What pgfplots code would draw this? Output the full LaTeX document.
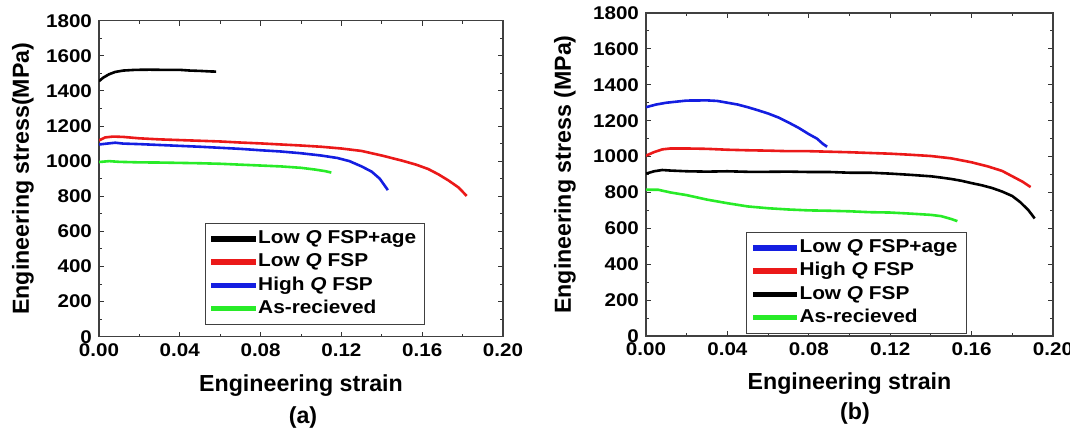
\documentclass[border=0pt]{standalone}
\usepackage{pgfplots}
\pgfplotsset{compat=1.18}
\usepackage{fontspec}
\setmainfont{Liberation Sans}
\newfontfamily\tickfont{Liberation Sans}[FakeStretch=1.12]

\definecolor{cred}{RGB}{235,25,25}
\definecolor{cblue}{RGB}{20,30,225}
\definecolor{cgreen}{RGB}{40,235,40}

\pgfplotsset{
  ssplot/.style={
    scale only axis,
    xmin=0, xmax=0.2, ymin=0, ymax=1800,
    xtick={0,0.04,0.08,0.12,0.16,0.2},
    ytick={0,200,...,1800},
    minor x tick num=1, minor y tick num=1,
    tick align=inside,
    major tick length=2.6pt, minor tick length=1.6pt,
    every tick/.style={black!80, line width=0.5pt},
    axis line style={black!75, line width=0.6pt},
    /pgf/number format/assume math mode=true,
    xticklabel style={/pgf/number format/fixed, /pgf/number format/fixed zerofill, /pgf/number format/precision=2},
    yticklabel style={/pgf/number format/fixed, /pgf/number format/1000 sep={}},
    tick label style={font=\tickfont\bfseries\fontsize{9.2}{10}\selectfont},
    label style={font=\bfseries\fontsize{11.6}{13}\selectfont},
    legend cell align=left,
    legend image code/.code={\fill[#1] (0pt,-0.7pt) rectangle (21pt,0.7pt);},
    legend style={font=\tickfont\bfseries\fontsize{9.3}{10}\selectfont, draw=black!75, fill=white,
      anchor=north west, inner xsep=3pt, inner ysep=2pt,
      nodes={text height=7pt, text depth=2.2pt, inner sep=1.2pt}},
  },
  cv/.style={line width=1.3pt, #1},
}

\begin{document}
\begin{tikzpicture}
\path[use as bounding box] (0,0) rectangle (535pt,-216.5pt);

% (a)
\begin{axis}[ssplot, name=pa,
  at={(49.5pt,-168.35pt)}, anchor=south west,
  width=202pt, height=158pt,
  xlabel={Engineering strain},
  ylabel={Engineering stress(MPa)},
  xlabel style={at={(axis description cs:0.5,-0.156)}, anchor=center},
  ylabel style={at={(axis description cs:-0.188,0.5)}, anchor=center, rotate=0},
  legend style={at={(axis description cs:0.262,0.36)}},
]
\addplot[cv=black] coordinates {(0,1455) (0.002,1475) (0.005,1495) (0.008,1508) (0.012,1516) (0.018,1520) (0.025,1521) (0.032,1520) (0.04,1520) (0.045,1516) (0.05,1514) (0.055,1511) (0.058,1510)};
\addlegendentry{Low \textit{Q} FSP+age}
\addplot[cv=cred] coordinates {(0,1118) (0.003,1135) (0.007,1140) (0.012,1138) (0.02,1130) (0.03,1124) (0.04,1120) (0.05,1116) (0.06,1112) (0.07,1106) (0.08,1101) (0.09,1095) (0.1,1089) (0.11,1082) (0.12,1072) (0.13,1058) (0.14,1032) (0.15,1003) (0.157,980) (0.163,955) (0.168,925) (0.173,890) (0.178,850) (0.182,802)};
\addlegendentry{Low \textit{Q} FSP}
\addplot[cv=cblue] coordinates {(0,1095) (0.004,1100) (0.008,1105) (0.012,1100) (0.02,1097) (0.03,1092) (0.04,1087) (0.05,1082) (0.06,1076) (0.07,1070) (0.08,1062) (0.09,1055) (0.1,1045) (0.11,1032) (0.118,1018) (0.124,1000) (0.13,970) (0.135,940) (0.139,900) (0.143,835)};
\addlegendentry{High \textit{Q} FSP}
\addplot[cv=cgreen] coordinates {(0,995) (0.005,1000) (0.01,996) (0.02,993) (0.03,992) (0.04,990) (0.05,988) (0.06,985) (0.07,980) (0.08,975) (0.09,970) (0.1,962) (0.107,952) (0.112,943) (0.115,935)};
\addlegendentry{As-recieved}
\end{axis}

% (b)
\begin{axis}[ssplot, name=pb,
  at={(323pt,-168pt)}, anchor=south west,
  width=203.5pt, height=161.5pt,
  xlabel={Engineering strain},
  ylabel={Engineering stress (MPa)},
  xlabel style={at={(axis description cs:0.5,-0.146)}, anchor=center},
  ylabel style={at={(axis description cs:-0.199,0.5)}, anchor=center, rotate=0},
  legend style={at={(axis description cs:0.246,0.322)}},
]
\addplot[cv=cblue] coordinates {(0,1275) (0.005,1290) (0.01,1300) (0.02,1312) (0.03,1313) (0.035,1310) (0.04,1300) (0.045,1290) (0.05,1275) (0.055,1258) (0.06,1240) (0.065,1218) (0.07,1190) (0.075,1160) (0.08,1125) (0.084,1100) (0.087,1070) (0.089,1055)};
\addlegendentry{Low \textit{Q} FSP+age}
\addplot[cv=cred] coordinates {(0,1005) (0.004,1025) (0.008,1040) (0.012,1045) (0.02,1045) (0.03,1043) (0.04,1038) (0.05,1035) (0.06,1033) (0.07,1030) (0.08,1030) (0.09,1027) (0.1,1024) (0.11,1020) (0.12,1016) (0.13,1010) (0.14,1003) (0.15,990) (0.16,968) (0.168,945) (0.175,920) (0.18,890) (0.185,860) (0.189,830)};
\addlegendentry{High \textit{Q} FSP}
\addplot[cv=black] coordinates {(0,905) (0.004,918) (0.008,925) (0.012,922) (0.02,918) (0.03,916) (0.04,918) (0.05,915) (0.06,915) (0.07,916) (0.08,914) (0.09,914) (0.1,910) (0.11,910) (0.12,905) (0.13,898) (0.14,890) (0.145,883) (0.15,875) (0.155,865) (0.16,852) (0.165,840) (0.17,825) (0.175,805) (0.18,780) (0.184,745) (0.188,700) (0.191,655)};
\addlegendentry{Low \textit{Q} FSP}
\addplot[cv=cgreen] coordinates {(0,815) (0.006,815) (0.012,800) (0.02,785) (0.03,760) (0.04,740) (0.05,722) (0.06,712) (0.07,705) (0.08,700) (0.09,698) (0.1,695) (0.11,690) (0.12,688) (0.13,682) (0.14,675) (0.145,668) (0.15,652) (0.153,640)};
\addlegendentry{As-recieved}
\end{axis}

\node[font=\bfseries\fontsize{11.6}{13}\selectfont] at (151.5pt,-208.5pt) {(a)};
\node[font=\bfseries\fontsize{11.6}{13}\selectfont] at (427.5pt,-206.5pt) {(b)};
\end{tikzpicture}
\end{document}
